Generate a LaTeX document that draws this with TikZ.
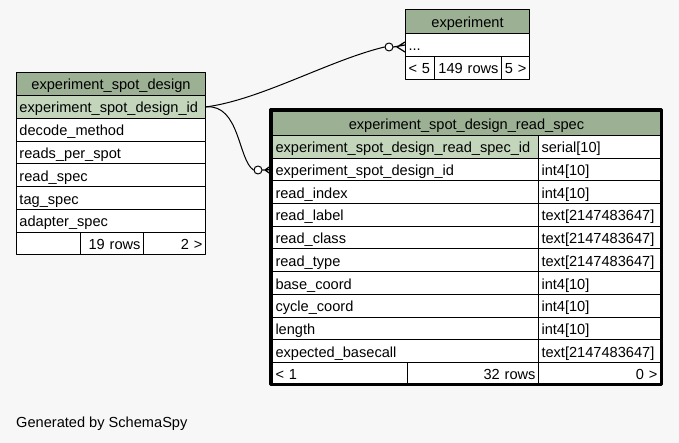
\documentclass[tikz,border=0pt]{standalone}
\usepackage{fontspec}
\setmainfont{Liberation Sans}
\definecolor{hdrgreen}{HTML}{9CB094}
\definecolor{keygreen}{HTML}{C3D6BC}
\definecolor{bggray}{HTML}{F7F7F7}
\begin{document}
\begin{tikzpicture}[x=1pt, y=-1pt, line join=round, line cap=round, font=\fontsize{14.6}{16}\selectfont]
	\tikzset{
		tbl/.style={draw, anchor=north west, inner xsep=3pt, inner ysep=0pt, text height=12pt, text depth=0pt, line width=1pt, minimum height=22.8pt},
		hdr/.style={tbl, fill=hdrgreen, align=center, minimum height=24pt},
		cell/.style={tbl, fill=white, align=left},
		keycell/.style={tbl, fill=keygreen, align=left},
		numcell/.style={tbl, fill=white, align=right},
		fkend/.style={draw, circle, fill=white, inner sep=0pt, minimum size=8pt, line width=1pt}
	}
	\fill[bggray] (0,0) rectangle (679,443);
	\useasboundingbox (0,0) rectangle (679,443);
	% experiment_spot_design
	\node[hdr, text width=183, minimum height=23pt] (esd) at (16,72) {experiment\_spot\_design};
	\node[keycell, text width=183] (esdid) at (16,95) {experiment\_spot\_design\_id};
	\foreach \nm [count=\i] in {decode\_method, reads\_per\_spot, read\_spec, tag\_spec, adapter\_spec}
		\node[cell, text width=183] (esd\i) at (16,{95+22.8*\i}) {\nm};
	\node[cell, text width=58, minimum height=22pt] (esdf1) at (16,232) {};
	\node[numcell, text width=57, minimum height=22pt] (esdf2) at (80,232) {19 rows};
	\node[numcell, text width=56, minimum height=22pt] (esdf3) at (143,232) {2 >};
	% experiment
	\node[hdr, text width=118] (ex) at (405,9) {experiment};
	\node[cell, text width=118, minimum height=23pt] (exrow) at (405,33) {...};
	\node[cell, text width=23, minimum height=23pt] (exf1) at (405,56) {< 5};
	\node[numcell, text width=61, minimum height=23pt] (exf2) at (434,56) {149 rows};
	\node[numcell, text width=22, minimum height=23pt] (exf3) at (501,56) {5 >};
	% experiment_spot_design_read_spec
	\node[hdr, text width=382] (rs) at (272,111) {experiment\_spot\_design\_read\_spec};
	\node[keycell, text width=260, minimum height=22.7pt] (rsid) at (272,135) {experiment\_spot\_design\_read\_spec\_id};
	\node[cell, text width=116, minimum height=22.7pt] (rsidt) at (538,135) {serial[10]};
	\foreach \nm/\ty [count=\i] in {experiment\_spot\_design\_id/int4[10], read\_index/int4[10], read\_label/text[2147483647], read\_class/text[2147483647], read\_type/text[2147483647], base\_coord/int4[10], cycle\_coord/int4[10], length/int4[10], expected\_basecall/text[2147483647]}
	{
		\node[cell, text width=260, minimum height=22.7pt] (rs\i) at (272,{135+22.7*\i}) {\nm};
		\node[cell, text width=116, minimum height=22.7pt] (rst\i) at (538,{135+22.7*\i}) {\ty};
	}
	\node[cell, text width=129, minimum height=22pt] (rsf1) at (272,362) {< 1};
	\node[numcell, text width=125, minimum height=22pt] (rsf2) at (407,362) {32 rows};
	\node[numcell, text width=116, minimum height=22pt] (rsf3) at (538,362) {0 >};
	\draw[line width=3pt] (270.5,109.5) rectangle (661.5,384.5);
	% relationships
	\node[fkend] (o1) at (389,47) {};
	\node[fkend] (o2) at (258,170) {};
	\draw[line width=1pt] (esdid.east) .. controls (260,100) and (330,60) .. (o1.west);
	\draw[line width=1pt] (esdid.east) .. controls (240,104) and (238,160) .. (o2.west);
	\draw[line width=1.2pt] (o1.east) -- (exrow.west) (397,47) -- (405,42) (397,47) -- (405,52);
	\draw[line width=1.2pt] (o2.east) -- (rs1.west) (265,170) -- (272,165) (265,170) -- (272,175);
	\node[anchor=west, inner sep=0pt] (gen) at (16,424) {Generated by SchemaSpy};
\end{tikzpicture}
\end{document}
